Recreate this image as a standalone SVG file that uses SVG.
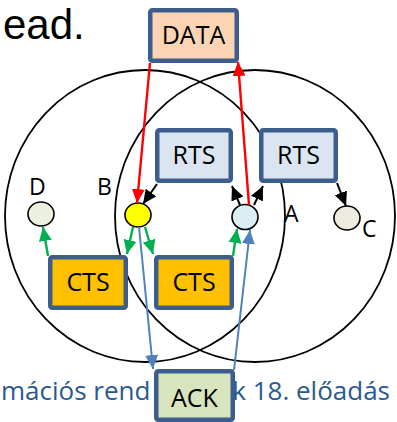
<svg xmlns="http://www.w3.org/2000/svg" width="397" height="422" viewBox="0 0 397 422">
<style>
.circ{fill:none;stroke:#000;stroke-width:1.8}
.box{stroke:#3d5e8c;stroke-width:4.5}
.bt{font-family:"Open Sans",sans-serif;font-size:25px;fill:#000;text-anchor:middle}
.lbl{font-family:"Open Sans",sans-serif;font-size:23px;fill:#000}
.node{stroke:#000;stroke-width:1.6}
.red{stroke:#ff0000;stroke-width:2.4;fill:none}
.blk{stroke:#000;stroke-width:2;fill:none}
.grn{stroke:#00b050;stroke-width:2.4;fill:none}
.blu{stroke:#4f81bd;stroke-width:2;fill:none}
</style>
<defs>
<marker id="ar" markerUnits="userSpaceOnUse" markerWidth="16" markerHeight="16" viewBox="0 0 16 16" refX="14" refY="8" orient="auto"><path d="M0,1.5 L14,8 L0,14.5 Z" fill="#ff0000"/></marker>
<marker id="ak" markerUnits="userSpaceOnUse" markerWidth="16" markerHeight="16" viewBox="0 0 16 16" refX="14" refY="8" orient="auto"><path d="M0,1.5 L14,8 L0,14.5 Z" fill="#000"/></marker>
<marker id="ag" markerUnits="userSpaceOnUse" markerWidth="16" markerHeight="16" viewBox="0 0 16 16" refX="14" refY="8" orient="auto"><path d="M0,1.5 L14,8 L0,14.5 Z" fill="#00b050"/></marker>
<marker id="ab" markerUnits="userSpaceOnUse" markerWidth="16" markerHeight="16" viewBox="0 0 16 16" refX="14" refY="8" orient="auto"><path d="M0,1.5 L14,8 L0,14.5 Z" fill="#4f81bd"/></marker>
</defs>
<rect width="397" height="422" fill="#fff"/>
<text x="3" y="39" font-family="'Liberation Sans',sans-serif" font-size="42" fill="#000">ead.</text>
<g id="ranges">
<ellipse class="circ" cx="145" cy="216" rx="140" ry="146"/>
<ellipse class="circ" cx="255" cy="216" rx="140" ry="146"/>
</g>
<g id="footer" font-family="'Open Sans',sans-serif" font-size="26" fill="#2a5a8e">
<text x="1" y="400">mációs rend</text>
<text x="390" y="400" text-anchor="end">k 18. előadás</text>
</g>
<g id="DATA"><rect class="box" x="150.25" y="10.25" width="86.5" height="50.5" rx="2" fill="#fbd4b4"/><text class="bt" x="193.5" y="44">DATA</text></g>
<g id="RTS1"><rect class="box" x="157.25" y="130.25" width="73.5" height="50.5" rx="2" fill="#dbe5f1"/><text class="bt" x="194" y="164">RTS</text></g>
<g id="RTS2"><rect class="box" x="261.25" y="130.25" width="74.5" height="50.5" rx="2" fill="#dbe5f1"/><text class="bt" x="298.5" y="164">RTS</text></g>
<g id="CTS1"><rect class="box" x="50.25" y="257.25" width="75.5" height="50.5" rx="2" fill="#ffc000"/><text class="bt" x="88" y="291">CTS</text></g>
<g id="CTS2"><rect class="box" x="156.25" y="257.25" width="75.5" height="50.5" rx="2" fill="#ffc000"/><text class="bt" x="194" y="291">CTS</text></g>
<g id="ACK"><rect class="box" x="156.25" y="371.25" width="76.5" height="48.5" rx="2" fill="#d7e4bd"/><text class="bt" x="194.5" y="407">ACK</text></g>
<g id="D"><ellipse class="node" cx="41" cy="214" rx="13" ry="12" fill="#ebf1de"/><text class="lbl" x="29" y="195">D</text></g>
<g id="B"><ellipse class="node" cx="138" cy="215" rx="13" ry="12" fill="#ffff00"/><text class="lbl" x="97" y="195">B</text></g>
<g id="A"><ellipse class="node" cx="245" cy="217" rx="13" ry="12.5" fill="#dbeef3"/><text class="lbl" x="284" y="222">A</text></g>
<g id="C"><ellipse class="node" cx="347" cy="218" rx="13" ry="12" fill="#eeece1"/><text class="lbl" x="362" y="237">C</text></g>
<g id="connectors">
<line class="red" x1="150" y1="63" x2="137" y2="203" marker-end="url(#ar)"/>
<line class="red" x1="249" y1="205" x2="238" y2="62" marker-end="url(#ar)"/>
<line class="blk" x1="157" y1="184" x2="143" y2="204" marker-end="url(#ak)"/>
<line class="blk" x1="240" y1="205" x2="232" y2="186" marker-end="url(#ak)"/>
<line class="blk" x1="254" y1="205" x2="263" y2="186" marker-end="url(#ak)"/>
<line class="blk" x1="337" y1="183" x2="346" y2="206" marker-end="url(#ak)"/>
<line class="grn" x1="48" y1="256" x2="43" y2="227" marker-end="url(#ag)"/>
<line class="grn" x1="133" y1="227" x2="127" y2="254" marker-end="url(#ag)"/>
<line class="grn" x1="145" y1="227" x2="153" y2="254" marker-end="url(#ag)"/>
<line class="grn" x1="233" y1="256" x2="237" y2="229" marker-end="url(#ag)"/>
<line class="blu" x1="139" y1="227" x2="153" y2="369" marker-end="url(#ab)"/>
<line class="blu" x1="234" y1="370" x2="250" y2="230" marker-end="url(#ab)"/>
</g>
</svg>
